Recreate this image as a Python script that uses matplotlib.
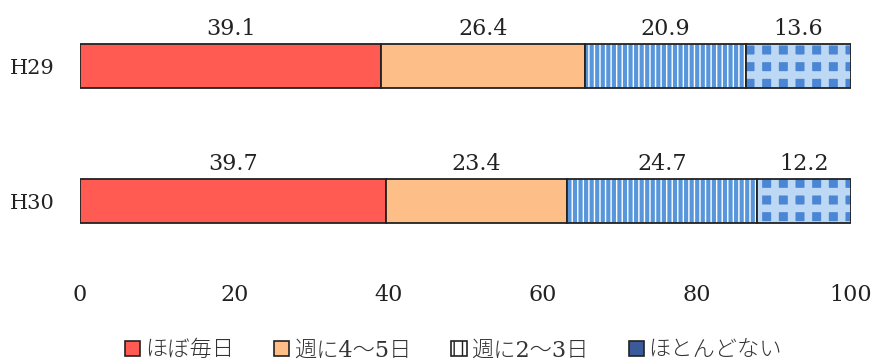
import matplotlib
matplotlib.use("Agg")
import matplotlib.pyplot as plt
from matplotlib.patches import Patch

years = ["H29", "H30"]
categories = ["ほぼ毎日", "週に4〜5日", "週に2〜3日", "ほとんどない"]
h29 = [39.1, 26.4, 20.9, 13.6]
h30 = [39.7, 23.4, 24.7, 12.2]
xticks = [0, 20, 40, 60, 80, 100]

# fill colour, hatch colour, hatch pattern and hatch width per category
faces = ["#FF5B52", "#FDBE88", "#FFFFFF", "#4A86D4"]
hatch_cols = ["#FF5B52", "#FDBE88", "#5896DC", "#BCD8F4"]
hatches = [None, None, "|||", "+"]
hatch_lw = [1.0, 1.0, 3.0, 5.5]

plt.rcParams["font.family"] = ["DejaVu Serif", "Noto Sans CJK JP"]

fig = plt.figure(figsize=(8.72, 3.63), dpi=100)
ax = fig.add_axes([80 / 872, 1 - 265 / 363, 771 / 872, 250 / 363])

rows = [h29, h30]
for yi, vals in enumerate(rows):
    left = 0
    for ci, v in enumerate(vals):
        with plt.rc_context({"hatch.linewidth": hatch_lw[ci]}):
            ax.barh(yi, v, left=left, height=0.33, color=faces[ci],
                    edgecolor=hatch_cols[ci], hatch=hatches[ci], linewidth=0)
        ax.barh(yi, v, left=left, height=0.33, fill=False,
                edgecolor="#222222", linewidth=1.3)
        ax.annotate(f"{v:.1f}", (left + v / 2, yi - 0.165),
                    xytext=(0, 3), textcoords="offset points",
                    ha="center", va="bottom", fontsize=16, color="#222222")
        left += v

ax.set_xlim(0, 100)
ax.set_ylim(1.474, -0.378)
ax.set_xticks(xticks)
ax.set_yticks(range(len(years)))
ax.set_yticklabels(years)
ax.tick_params(axis="x", length=0, pad=14, labelsize=16, colors="#222222")
ax.tick_params(axis="y", length=0, pad=18, labelsize=15, colors="#222222")
for s in ax.spines.values():
    s.set_visible(False)

# small legend swatches: dark outline with a light interior
with plt.rc_context({"hatch.linewidth": 1.0}):
    handles = [Patch(facecolor=["#FF5B52", "#FDBE88", "#FFFFFF", "#3A5A99"][i],
                     edgecolor="#222222", hatch=[None, None, "||", None][i],
                     linewidth=1.2) for i in range(len(categories))]
fig.legend(handles, categories, loc="center", bbox_to_anchor=(0.52, 0.035),
           ncol=4, frameon=False, handlelength=0.7,
           handleheight=0.7, handletextpad=0.2, columnspacing=1.8,
           prop={"size": 16, "weight": "light"}, labelcolor="#333333")

fig.savefig("out.png", dpi=100)
